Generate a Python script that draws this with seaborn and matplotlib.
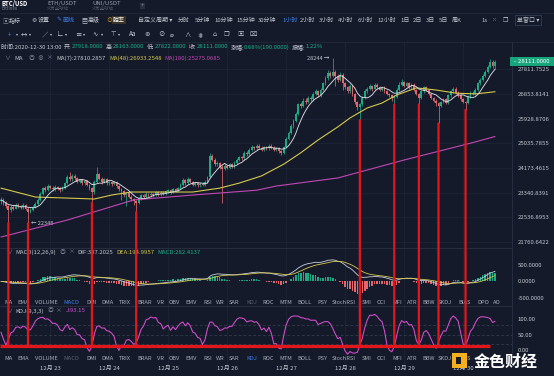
import numpy as np
import pandas as pd
import matplotlib
matplotlib.use("Agg")
import matplotlib.pyplot as plt
import matplotlib.transforms as mtransforms
from matplotlib.patches import ConnectionPatch, Rectangle
import seaborn as sns

# ---------------- data (hourly BTC/USD candles, 2020-12-22 04:00 .. 2020-12-30 13:00) -------------
closes = [23100, 23010, 22900, 22780, 22880, 22820, 22950, 22900, 22860, 22940,
          22820, 22720, 22780, 22880, 22980, 23100, 23300, 23480, 23420, 23560,
          23500, 23450, 23520, 23480, 23420, 23500, 23650, 23850, 23780, 23900,
          23820, 23700, 23760, 23650, 23720, 23600, 23480, 23350, 23700, 23950,
          23800, 23700, 23780, 23650, 23700, 23620, 23680, 23560, 23450, 23380,
          23250, 23320, 23200, 23120, 23050, 23000, 23150, 23250, 23200, 23300,
          23250, 23300, 23260, 23350, 23280, 23340, 23300, 23380, 23420, 23360,
          23450, 23400, 23480, 23600, 23750, 23650, 23800, 23700, 23600, 23650,
          23580, 23640, 23600, 23700, 23850, 24600, 24450, 24300, 24350, 24200,
          24150, 24250, 24180, 24300, 24220, 24350, 24450, 24550, 24500, 24700,
          24650, 24800, 24900, 24850, 24950, 24880, 24800, 24900, 24850, 24950,
          24880, 24800, 24850, 24750, 24700, 24900, 25200, 25400, 25650, 25850,
          26100, 26450, 26400, 26600, 26550, 26700, 26650, 26850, 26950, 26800,
          27000, 27250, 27450, 27650, 27550, 27700, 27550, 27400, 27600, 27250,
          27100, 26950, 27150, 26850, 26550, 26350, 26450, 26700, 26950, 27050,
          27150, 27050, 27200, 27100, 27000, 27100, 26950, 26850, 26800, 26700,
          26750, 27000, 27200, 27300, 27150, 27250, 27100, 27200, 27000, 26850,
          26700, 26950, 27100, 27000, 26850, 26700, 26600, 26500, 26400, 26550,
          26650, 26500, 26800, 26950, 27050, 26900, 26800, 26650, 26550, 26500,
          26750, 26900, 26850, 27000, 27250, 27400, 27550, 27700, 27900, 28100,
          27918, 28111]
highs = [23180, 23150, 23060, 22950, 22940, 22930, 23010, 23000, 22950, 22990,
         22980, 22860, 22830, 22920, 23030, 23150, 23350, 23530, 23560, 23620,
         23610, 23550, 23580, 23570, 23520, 23550, 23700, 23920, 24050, 23960,
         23950, 23860, 23810, 23800, 23770, 23760, 23640, 23520, 23760, 24200,
         24000, 23850, 23830, 23820, 23750, 23740, 23730, 23720, 23600, 23490,
         23420, 23370, 23360, 23250, 23160, 23100, 23200, 23300, 23300, 23350,
         23340, 23350, 23340, 23400, 23390, 23390, 23380, 23430, 23470, 23460,
         23500, 23490, 23530, 23650, 23820, 23790, 23850, 23840, 23740, 23700,
         23690, 23690, 23680, 23750, 23900, 24700, 24650, 24500, 24420, 24380,
         24260, 24300, 24290, 24350, 24340, 24400, 24500, 24600, 24600, 24750,
         24760, 24850, 24960, 24950, 25010, 25000, 24920, 24950, 24950, 25000,
         24990, 24920, 24900, 24890, 24790, 24950, 25260, 25460, 25720, 25920,
         26180, 26520, 26550, 26680, 26680, 26760, 26780, 26920, 27020, 27000,
         27080, 27320, 27530, 27760, 27720, 28244, 27780, 27620, 27680, 27650,
         27300, 27150, 27220, 27200, 26900, 26600, 26500, 26770, 27020, 27120,
         27220, 27200, 27260, 27250, 27150, 27160, 27140, 27000, 26900, 26850,
         26800, 27060, 27300, 27420, 27350, 27320, 27300, 27260, 27250, 27050,
         26900, 27000, 27160, 27150, 27050, 26900, 26750, 26650, 26550, 26600,
         26700, 26700, 26860, 27000, 27110, 27100, 26950, 26850, 26700, 26600,
         26800, 26950, 26960, 27060, 27300, 27460, 27620, 27780, 27980, 28200,
         28180, 28163]
lows = [22980, 22950, 22850, 22350, 22720, 22760, 22790, 22850, 22800, 22820,
        22760, 22348, 22660, 22740, 22850, 22940, 23060, 23260, 23370, 23380,
        23450, 23400, 23410, 23430, 23370, 23380, 23470, 23620, 23730, 23740,
        23770, 23650, 23660, 23600, 23610, 23550, 23420, 23000, 23300, 23660,
        23750, 23640, 23660, 23600, 23610, 23570, 23580, 23500, 23400, 23100,
        23200, 22900, 23150, 23070, 22950, 22700, 22960, 23100, 23150, 23160,
        23200, 23210, 23210, 23230, 23230, 23240, 23250, 23260, 23340, 23310,
        23320, 23350, 23370, 23450, 23570, 23600, 23620, 23650, 23550, 23560,
        23530, 23540, 23550, 23570, 23660, 23820, 24400, 24250, 24250, 24150,
        23000, 24100, 24130, 24140, 24170, 24180, 24310, 24410, 24450, 24460,
        24600, 24610, 24760, 24800, 24810, 24830, 24750, 24760, 24800, 24810,
        24830, 24750, 24760, 24700, 24620, 24660, 24860, 25150, 25350, 25600,
        25800, 26050, 26300, 26350, 26480, 26500, 26580, 26600, 26800, 26750,
        26750, 26950, 27200, 27400, 27480, 27500, 27150, 27300, 27350, 27000,
        27030, 26880, 26900, 26780, 26480, 26250, 25870, 26400, 26650, 26900,
        27000, 26980, 27000, 27050, 26950, 26950, 26900, 26800, 26730, 26600,
        26450, 26700, 26950, 27150, 27100, 27100, 27050, 27050, 26950, 26800,
        26450, 26650, 26900, 26950, 26800, 26650, 26550, 26400, 25750, 26350,
        26500, 26450, 26450, 26750, 26900, 26850, 26750, 26600, 26500, 26250,
        26450, 26700, 26800, 26800, 26950, 27200, 27350, 27500, 27650, 27850,
        27850, 27822]
first_open = 23050

# MA(48) and MA(180) (candle index, price)
ma48_idx = [0, 14, 27, 38, 45, 53, 64, 78, 89, 97, 106, 115, 122, 129, 137, 142,
            149, 155, 161, 169, 177, 185, 193, 201]
ma48_val = [23490, 23195, 23160, 23130, 23260, 23360, 23360, 23360, 23490, 23660,
            23900, 24300, 24700, 25150, 25620, 25950, 26320, 26505, 26810, 27080,
            27000, 26880, 26850, 26933]
ma180_idx = [0, 27, 54, 78, 104, 112, 137, 164, 191, 201]
ma180_val = [21915, 22450, 23100, 23260, 23420, 23560, 23830, 24446, 25036, 25275]

price_ticks = [21760.6422, 22536.8953, 23340.8391, 24173.4615, 25035.7855,
               25928.8706, 26853.8141, 27811.7525]
macd_ticks = [500, 0, -500]
kdj_ticks = [100, 50, 0]
kdj_levels = [80, 50, 20]

day_idx = [20, 44, 68, 92, 116, 140, 164, 188]
day_labels = ["12月 23", "12月 24", "12月 25", "12月 26", "12月 27", "12月 28",
              "12月 29", "12月 30"]

red_line_idx = [3, 11, 37, 55, 146, 160, 170, 178, 189]
red_level = 14
red_end_idx = 199

indicators = ["MA", "EMA", "VOLUME", "MACD", "DMI", "DMA", "TRIX", "BRAR", "VR", "OBV",
              "EMV", "RSI", "WR", "SAR", "KDJ", "ROC", "MTM", "BOLL", "PSY", "StochRSI",
              "SMI", "CCI", "MFI", "ATR", "BBW", "SKDJ", "BIAS", "DPO", "AO"]
indicator_x = [4, 17, 35, 63, 86, 101, 119, 137, 157, 169, 185, 203, 216, 229, 246,
               262, 279, 297, 317, 332, 362, 377, 392, 407, 422, 438, 458, 477, 493]
# in the lower selector row the last entries are hidden behind the watermark
lower_row_count = 27

periods = ["分时", "5分钟", "10分钟", "15分钟", "30分钟", "1小时", "2小时", "3小时",
           "4小时", "6小时", "12小时", "1日", "2日", "3日", "5日", "周K"]
period_x = [178, 195, 214, 236, 258, 282, 300, 319, 338, 358, 377, 400, 413, 426, 439, 452]

# ---------------- style ----------------
BG = "#141a2a"
GRID = "#1f2637"
SEP = "#2a3144"
UP = "#20a883"
DN = "#e2666b"
TXT = "#c3c7d1"
DIM = "#7d8394"
GREEN_T = "#1fb38a"
YEL = "#d6c94c"
MAG = "#c248b4"
BLUE = "#3d7fe6"
RED = "#e3161c"

sns.set_theme(style="dark", rc={"axes.facecolor": BG, "figure.facecolor": BG,
                                "axes.edgecolor": SEP, "axes.grid": False})
plt.rcParams["font.family"] = ["Noto Sans CJK SC", "DejaVu Sans"]
plt.rcParams["axes.unicode_minus"] = False

W, H = 554, 376
fig = plt.figure(figsize=(W / 100, H / 100), dpi=100, facecolor=BG)


def fx(x):
    return x / W


def fy(y):
    return 1 - y / H


renderer = fig.canvas.get_renderer()
FS = 4.3


def T(x, y, s, c=TXT, size=FS, ha="left", **kw):
    return fig.text(fx(x), fy(y), s, color=c, fontsize=size, ha=ha, va="center", **kw)


def seq(x, y, parts, size=FS):
    for s, c, gap in parts:
        t = T(x, y, s, c, size)
        x += t.get_window_extent(renderer).width + gap


# ---------------- data frame ----------------
df = pd.DataFrame({"close": closes, "high": highs, "low": lows})
df["open"] = df["close"].shift(1).fillna(first_open)
df["idx"] = np.arange(len(df))
df["ma7"] = df["close"].rolling(7, min_periods=1).mean()
ema12 = df["close"].ewm(span=12, adjust=False).mean()
ema26 = df["close"].ewm(span=26, adjust=False).mean()
df["dif"] = ema12 - ema26
df["dea"] = df["dif"].ewm(span=9, adjust=False).mean()
df["hist"] = 2 * (df["dif"] - df["dea"])
llv = df["low"].rolling(9, min_periods=1).min()
hhv = df["high"].rolling(9, min_periods=1).max()
rsv = (df["close"] - llv) / (hhv - llv) * 100
k = pd.concat([pd.Series([50.0]), rsv]).ewm(alpha=1 / 3, adjust=False).mean().iloc[1:].values
d = pd.Series(np.concatenate([[50.0], k])).ewm(alpha=1 / 3, adjust=False).mean().iloc[1:].values
df["J"] = 3 * k - 2 * d

ma48 = pd.DataFrame({"idx": ma48_idx, "v": ma48_val})
ma180 = pd.DataFrame({"idx": ma180_idx, "v": ma180_val})

XL = (-0.4, 207.9)

# ---------------- axes ----------------
ax = fig.add_axes([0, fy(248), 512 / W, (248 - 42) / H])
axm = fig.add_axes([0, fy(306), 512 / W, (306 - 248) / H])
axk = fig.add_axes([0, fy(364), 512 / W, (364 - 306) / H])

for a in (ax, axm, axk):
    a.set_facecolor(BG)
    a.set_xlim(*XL)
    for s in ("left", "bottom"):
        a.spines[s].set_visible(False)
    a.spines["right"].set_color(SEP)
    a.spines["right"].set_linewidth(0.6)
    a.spines["top"].set_color(SEP)
    a.spines["top"].set_linewidth(0.6)
    a.yaxis.tick_right()
    a.tick_params(axis="y", length=0, pad=4, labelsize=4.3, labelcolor=TXT)
    a.set_xticks(day_idx)
    for xi in day_idx:
        a.axvline(xi, color=GRID, lw=0.5, zorder=0)
ax.spines["top"].set_visible(False)
ax.tick_params(axis="x", length=0, labelbottom=False)
axm.tick_params(axis="x", length=0, labelbottom=False)
axk.set_xticklabels(day_labels)
axk.tick_params(axis="x", length=0, pad=1.2, labelsize=4.3, labelcolor=TXT)

# ---- main price panel ----
ax.set_yscale("log")
ax.set_ylim(21576, 28903)
ax.set_yticks(price_ticks)
ax.set_yticklabels([f"{v:.4f}" for v in price_ticks])
ax.yaxis.set_minor_locator(matplotlib.ticker.NullLocator())
for v in price_ticks:
    ax.axhline(v, color=GRID, lw=0.5, zorder=0)

ccol = np.where(df["close"] >= df["open"], UP, DN)
ax.vlines(df["idx"], df["low"], df["high"], colors=ccol, lw=0.55, zorder=2)
body_lo = np.minimum(df["open"], df["close"])
body_h = np.maximum(np.abs(df["close"] - df["open"]), 12)
ax.bar(df["idx"], body_h, bottom=body_lo, width=0.74, color=ccol, linewidth=0, zorder=3)

sns.lineplot(data=ma180, x="idx", y="v", ax=ax, color=MAG, lw=0.8, zorder=4)
sns.lineplot(data=ma48, x="idx", y="v", ax=ax, color=YEL, lw=0.8, zorder=4)
sns.lineplot(data=df, x="idx", y="ma7", ax=ax, color="#d9dce4", lw=0.65, zorder=5)
ax.set_xlabel("")
ax.set_ylabel("")

hi_i = int(df["high"].idxmax())
lo_i = int(df["low"].idxmin())
ax.text(hi_i - 1.2, df["high"][hi_i], f"{df['high'][hi_i]:.0f} \u2192", color=TXT,
        fontsize=4, ha="right", va="center")
ax.text(lo_i + 1.2, df["low"][lo_i], f"\u2190 {df['low'][lo_i]:.0f}", color=TXT,
        fontsize=4, ha="left", va="center")

last = df["close"].iloc[-1]
blend = mtransforms.blended_transform_factory(ax.transAxes, ax.transData)
ax.text(1.0, last, f" \u2013 {last:.4f}  ", transform=blend, color="white", fontsize=4.3,
        ha="left", va="center", clip_on=False, zorder=10,
        bbox=dict(boxstyle="square,pad=0.35", fc="#17a57c", ec="none"))

# ---- MACD panel ----
axm.set_ylim(-758, 1030)
axm.set_yticks(macd_ticks)
axm.set_yticklabels([f"{v:.4f}" for v in macd_ticks])
hcol = np.where(df["hist"] >= 0, UP, DN)
axm.bar(df["idx"], df["hist"], width=0.6, color=hcol, linewidth=0, zorder=2)
sns.lineplot(data=df, x="idx", y="dif", ax=axm, color="#c9cde0", lw=0.6, zorder=3)
sns.lineplot(data=df, x="idx", y="dea", ax=axm, color=YEL, lw=0.6, zorder=3)
axm.set_xlabel("")
axm.set_ylabel("")

# ---- KDJ panel ----
axk.set_ylim(-45, 142)
axk.set_yticks(kdj_ticks)
axk.set_yticklabels([f"{v:.2f}" for v in kdj_ticks])
for lv in kdj_levels:
    axk.axhline(lv, color="#3a4154", lw=0.5, ls=(0, (4, 3)), zorder=1)
sns.lineplot(data=df, x="idx", y="J", ax=axk, color="#d64fd0", lw=0.75, zorder=3)
axk.set_xlabel("")
axk.set_ylabel("")
axk.hlines(red_level, XL[0], red_end_idx, color=RED, lw=2.3, zorder=6)

# red vertical marker lines from candle lows down to the KDJ base line
for i in red_line_idx:
    cp = ConnectionPatch(xyA=(i, df["low"][i]), coordsA=ax.transData,
                         xyB=(i, red_level), coordsB=axk.transData,
                         color=RED, lw=1.6, zorder=6)
    fig.add_artist(cp)

# ---------------- header / UI text ----------------
T(2, 3.2, "BTC/USD", "white", 4.3, weight="bold")
T(2, 8.3, "Bitfinex", DIM, 3.2)
T(47, 3.2, "ETH/USDT", "#9aa0ad", 4.3)
T(47, 8.3, "火币全球站", "#565c6c", 3.2)
T(92, 3.2, "UNI/USDT", "#9aa0ad", 4.3)
T(92, 8.3, "火币全球站", "#565c6c", 3.2)
T(141, 6, "+", DIM, 4.3, bbox=dict(boxstyle="square,pad=0.15", fc="#2a3042", ec="none"))
fig.add_artist(plt.Line2D([0, 1], [fy(12.5), fy(12.5)], color="#232939", lw=0.6))

# toolbar
T(2, 20, "\u25a3", DIM, 4.3)
T(9, 20, "指标", TXT)
T(31, 20, "\u2699", TXT)
T(38, 20, "设置", TXT)
T(56, 20, "\u270e", BLUE)
T(62, 20, "画线", BLUE)
T(81, 20, "\u25a4", TXT)
T(88, 20, "高级", TXT)
T(106, 20, "\u2299", "#e8a317")
T(113, 20, "胜率", "white", bbox=dict(boxstyle="square,pad=0.2", fc="#3a3426", ec="none"))
T(138, 20, "自定义周期 \u25be", TXT)
for s, xx in zip(periods, period_x):
    T(xx, 20, s, BLUE if s == "1小时" else TXT)
T(481, 20, "1s", TXT)
T(492, 20, "\u2059", TXT)
T(503, 20, "\u2750", TXT)
T(517, 20, "单窗口 \u25be", TXT, bbox=dict(boxstyle="square,pad=0.3", fc=BG, ec="#3c4459", lw=0.5))

# drawing tools row
tools = ["+", "\u25be", "\u2194", "\u25be", "\u2215", "\u25be", "\u221f", "\u25be",
         "\u2261", "\u25be", "\u223f", "\u25be", "\u22a4", "\u25be", "Aa", "\u229b",
         "\u2298", "\u2300", "\u2227", "\u22d5", "\u2302", "\u2750", "\u25a3", "\u2327"]
tool_x = [8, 16, 21, 29, 42, 50, 57, 65, 75, 83, 92, 101, 110, 118, 129, 144,
          158, 170, 184, 197, 213, 224, 237, 249]
for s, xx in zip(tools, tool_x):
    T(xx, 34.5, s, BLUE if s == "+" else TXT, 4.6 if s != "\u25be" else 3.0)
fig.add_artist(plt.Line2D([0, 1], [fy(41.5), fy(41.5)], color="#232939", lw=0.6))

# OHLC info row
seq(1, 47, [("时间:2020-12-30 13:00", TXT, 2.5),
            ("开:", TXT, 0), ("27918.0000", GREEN_T, 2.5),
            ("高:", TXT, 0), ("28163.0000", GREEN_T, 2.5),
            ("低:", TXT, 0), ("27822.0000", GREEN_T, 2.5),
            ("收:", TXT, 0), ("28111.0000", GREEN_T, 2.5),
            ("涨幅:", TXT, 0), ("0.68%(190.0000)", GREEN_T, 2.5),
            ("振幅:", TXT, 0), ("1.22%", GREEN_T, 0)])

# MA legend row
seq(4, 58, [("\u2228", DIM, 4), ("MA", TXT, 6), ("\u25ce", DIM, 3), ("\u2297", DIM, 3),
            ("\u00d7", DIM, 4), ("MA(7):27810.2857", TXT, 3),
            ("MA(48):26933.2548", YEL, 3), ("MA(180):25275.0685", MAG, 0)])

# MACD legend row
seq(6, 252, [("\u2228", DIM, 3), ("MACD(12,26,9)", TXT, 4), ("\u25ce", DIM, 3),
             ("\u00d7", DIM, 3), ("DIF:307.2025", TXT, 3), ("DEA:194.9957", YEL, 3),
             ("MACD:282.4137", GREEN_T, 0)])

# KDJ legend row
seq(6, 311, [("\u2228", DIM, 3), ("KDJ(9,3,3)", TXT, 4), ("\u25ce", DIM, 3),
             ("\u00d7", DIM, 3), ("J:93.15", "#d64fd0", 0)])

# indicator selector rows
for yrow, active, dim, n in ((302, "MACD", "KDJ", len(indicators)),
                             (359, "KDJ", "MACD", lower_row_count)):
    for s, xx in list(zip(indicators, indicator_x))[:n]:
        c = BLUE if s == active else ("#5b6172" if s == dim else "#a9aebb")
        T(xx, yrow, s, c, 4.1)

# watermark logo
fig.patches.append(Rectangle((fx(452), fy(368)), 15 / W, 15 / H, transform=fig.transFigure,
                             fc="#f2b01e", ec="none", zorder=20))
fig.patches.append(Rectangle((fx(456), fy(364)), 5 / W, 7 / H, transform=fig.transFigure,
                             fc="#1b1b1b", ec="none", zorder=21))
T(474, 362, "金色财经", "white", 11.5, weight="bold", zorder=22)

fig.savefig("out.png", dpi=100, facecolor=BG)
